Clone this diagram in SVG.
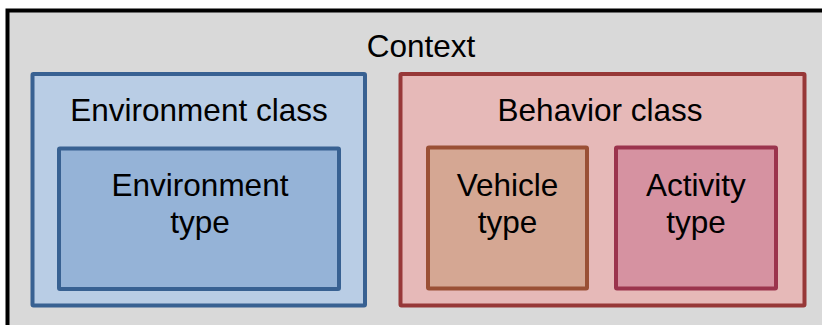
<svg xmlns="http://www.w3.org/2000/svg" width="822" height="325" viewBox="0 0 822 325">
<style>
text{font-family:"Liberation Sans",Arial,sans-serif;font-size:31.5px;fill:#000;text-anchor:middle}
rect{stroke-width:4}
.ctx{fill:#d9d9d9;stroke:#000}
.envc{fill:#b9cde5;stroke:#386192}
.envt{fill:#95b3d7;stroke:#386192}
.behc{fill:#e6b9b8;stroke:#973838}
.veh{fill:#d5a793;stroke:#9a5035}
.act{fill:#d692a1;stroke:#9b344d}
</style>
<g id="context">
<rect class="ctx" x="7.5" y="10.5" width="830" height="330"/>
<text x="421" y="57">Context</text>
</g>
<g id="environment-class">
<rect class="envc" x="32.5" y="74" width="332.5" height="231.5" rx="1"/>
<text x="199" y="121">Environment class</text>
</g>
<g id="environment-type">
<rect class="envt" x="59" y="148.5" width="280" height="140.5" rx="1"/>
<text x="200" y="196">Environment</text>
<text x="200" y="233">type</text>
</g>
<g id="behavior-class">
<rect class="behc" x="400.5" y="74" width="404" height="231.5" rx="1"/>
<text x="600" y="121">Behavior class</text>
</g>
<g id="vehicle-type">
<rect class="veh" x="428" y="147.5" width="159" height="141" rx="1"/>
<text x="507.5" y="196">Vehicle</text>
<text x="507.5" y="233">type</text>
</g>
<g id="activity-type">
<rect class="act" x="616" y="147.5" width="160" height="141" rx="1"/>
<text x="696" y="196">Activity</text>
<text x="696" y="233">type</text>
</g>
<g id="connectors"></g>
</svg>
